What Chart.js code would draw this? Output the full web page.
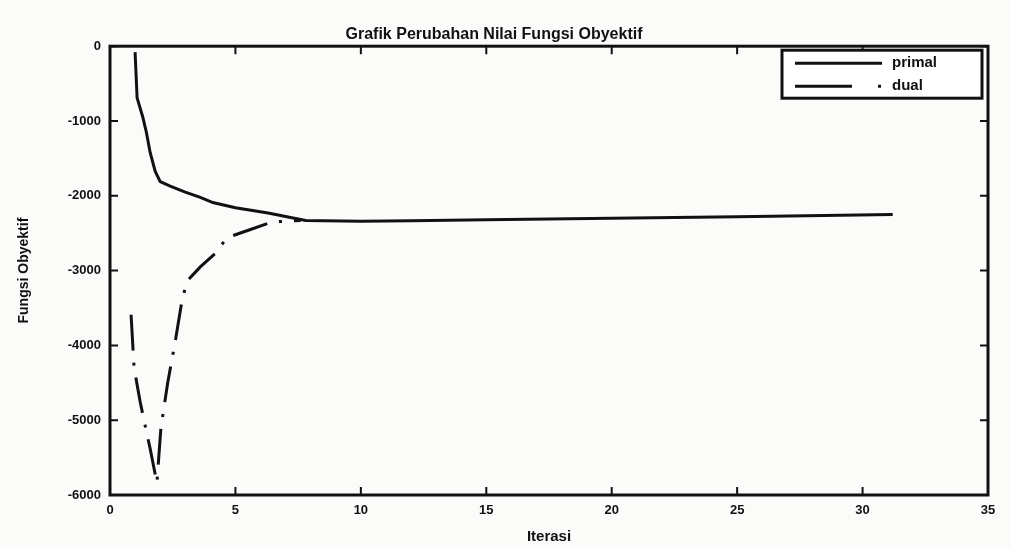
<!DOCTYPE html>
<html>
<head>
<meta charset="utf-8">
<script src="https://cdn.jsdelivr.net/npm/chart.js@4.4.0/dist/chart.umd.min.js"></script>
<style>
  html, body { margin: 0; padding: 0; background: #fbfbfa; }
  #wrap { width: 1011px; height: 548px; }
</style>
</head>
<body>
<div id="wrap"><canvas id="objChart" width="1011" height="548"></canvas></div>
<script>
// iterations and objective values
var primalX = [1, 1.08, 1.3, 1.45, 1.6, 1.8, 2, 2.4, 3, 3.6, 4.1, 5, 6.3, 7.8, 10, 12, 15, 20, 25, 31.2];
var primalY = [-80, -690, -940, -1150, -1420, -1670, -1810, -1870, -1950, -2020, -2090, -2160, -2230, -2330, -2340, -2335, -2320, -2300, -2280, -2250];

var dualX = [0.84, 0.96, 1.2, 1.43, 1.6, 1.87, 2.03, 2.3, 2.6, 2.87, 3.07, 3.6, 4.2, 4.66, 5.6, 6.45, 7.6];
var dualY = [-3590, -4300, -4750, -5120, -5380, -5840, -5100, -4500, -3950, -3400, -3140, -2950, -2770, -2560, -2450, -2350, -2330];

var xTicks = [0, 5, 10, 15, 20, 25, 30, 35];
var yTicks = [0, -1000, -2000, -3000, -4000, -5000, -6000];

var seriesNames = ['primal', 'dual'];
var titleText = 'Grafik Perubahan Nilai Fungsi Obyektif';
var xTitle = 'Iterasi';
var yTitle = 'Fungsi Obyektif';

function toPoints(xs, ys) {
    return xs.map(function (x, i) { return { x: x, y: ys[i] }; });
}

var ink = '#111';
var fontFam = '"Liberation Sans", Arial, sans-serif';
var dualDash = [36, 12, 3, 12];

// box, inward ticks and legend like the matlab figure
var matlabFrame = {
    id: 'matlabFrame',
    afterDraw: function (chart) {
        var c = chart.ctx, a = chart.chartArea;
        var xs = chart.scales.x, ys = chart.scales.y;
        c.save();
        c.strokeStyle = ink;
        c.lineWidth = 2;
        xTicks.forEach(function (v) {
            var px = xs.getPixelForValue(v);
            c.beginPath();
            c.moveTo(px, a.bottom); c.lineTo(px, a.bottom - 8);
            c.moveTo(px, a.top); c.lineTo(px, a.top + 8);
            c.stroke();
        });
        yTicks.forEach(function (v) {
            var py = ys.getPixelForValue(v);
            c.beginPath();
            c.moveTo(a.left, py); c.lineTo(a.left + 8, py);
            c.moveTo(a.right, py); c.lineTo(a.right - 8, py);
            c.stroke();
        });
        c.lineWidth = 3;
        c.strokeRect(a.left, a.top, a.right - a.left, a.bottom - a.top);

        // legend
        var bw = 200, bh = 48;
        var bx = a.right - bw - 6, by = a.top + 4;
        c.fillStyle = '#fff';
        c.fillRect(bx, by, bw, bh);
        c.lineWidth = 3;
        c.strokeRect(bx, by, bw, bh);
        var ds = chart.data.datasets;
        c.font = 'bold 15px ' + fontFam;
        c.textBaseline = 'middle';
        c.fillStyle = ink;
        ds.forEach(function (d, i) {
            var ly = by + 13 + i * 23;
            c.lineWidth = 3;
            c.setLineDash(i === 0 ? [] : [57, 26, 3, 100]);
            c.beginPath();
            c.moveTo(bx + 13, ly); c.lineTo(bx + 100, ly);
            c.stroke();
            c.setLineDash([]);
            c.fillText(d.label, bx + 110, ly);
        });
        c.restore();
    }
};

var ctx = document.getElementById('objChart').getContext('2d');
var objChart = new Chart(ctx, {
    type: 'scatter',
    data: {
        datasets: [{
            label: seriesNames[0],
            data: toPoints(primalX, primalY),
            showLine: true,
            borderColor: ink,
            borderWidth: 3,
            pointRadius: 0,
            tension: 0
        }, {
            label: seriesNames[1],
            data: toPoints(dualX, dualY),
            showLine: true,
            borderColor: ink,
            borderWidth: 3,
            borderDash: dualDash,
            pointRadius: 0,
            tension: 0
        }]
    },
    options: {
        responsive: false,
        animation: false,
        layout: { padding: { left: 0, right: 23, top: 0, bottom: 0 } },
        plugins: {
            legend: { display: false },
            tooltip: { enabled: false },
            title: {
                display: true,
                text: titleText,
                color: ink,
                font: { family: fontFam, size: 16, weight: 'bold' },
                padding: { top: 25, bottom: 2 }
            }
        },
        scales: {
            x: {
                type: 'linear',
                min: 0,
                max: 35,
                afterFit: function (s) { s.height = 53; },
                afterBuildTicks: function (s) { s.ticks = xTicks.map(function (v) { return { value: v }; }); },
                grid: { display: false, drawTicks: false },
                border: { display: false },
                ticks: {
                    color: ink,
                    padding: 8,
                    maxRotation: 0,
                    font: { family: fontFam, size: 13, weight: 'bold' }
                },
                title: {
                    display: true,
                    text: xTitle,
                    color: ink,
                    font: { family: fontFam, size: 15, weight: 'bold' },
                    padding: { top: 0, bottom: 2 }
                }
            },
            y: {
                type: 'linear',
                min: -6000,
                max: 0,
                afterFit: function (s) { s.width = 110; },
                afterBuildTicks: function (s) { s.ticks = yTicks.map(function (v) { return { value: v }; }); },
                grid: { display: false, drawTicks: false },
                border: { display: false },
                ticks: {
                    color: ink,
                    padding: 9,
                    font: { family: fontFam, size: 13, weight: 'bold' },
                    callback: function (v) { return String(v); }
                },
                title: {
                    display: true,
                    text: yTitle,
                    color: ink,
                    font: { family: fontFam, size: 14, weight: 'bold' },
                    padding: { top: 16, bottom: 0 }
                }
            }
        }
    },
    plugins: [matlabFrame]
});
</script>
</body>
</html>
